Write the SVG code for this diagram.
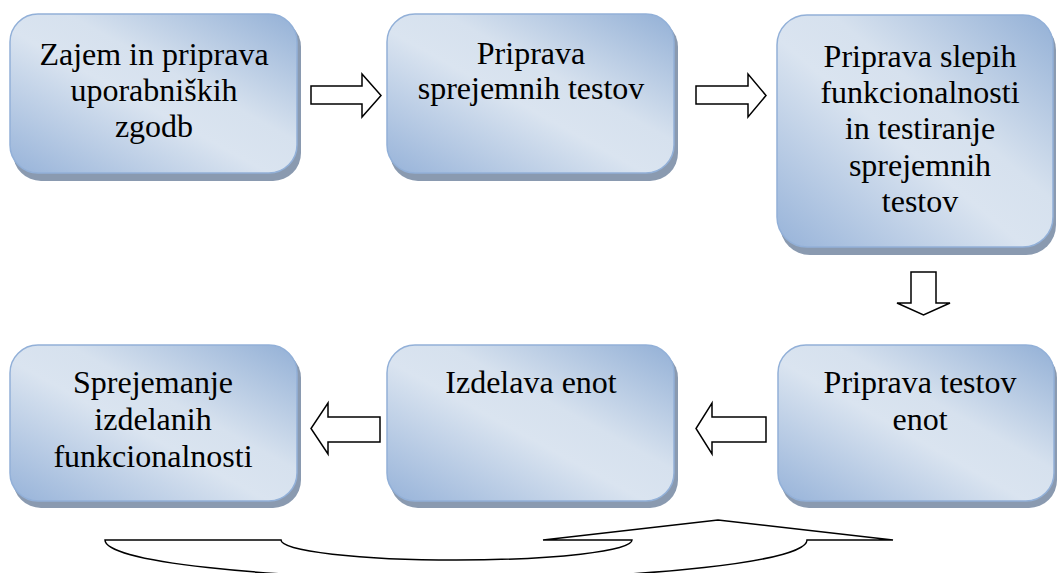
<svg xmlns="http://www.w3.org/2000/svg" width="1057" height="573" viewBox="0 0 1057 573">
<defs>
<linearGradient id="g" x1="0" y1="1" x2="1" y2="0">
<stop offset="0" stop-color="#97b3d9"/>
<stop offset="0.45" stop-color="#dae4f0"/>
<stop offset="0.6" stop-color="#d6e1ee"/>
<stop offset="1" stop-color="#93b0d6"/>
</linearGradient>
</defs>
<style>
.sh{fill:#8a9ab0}
.bx{fill:url(#g);stroke:#92b0d8;stroke-width:1.5}
text{font-family:'Liberation Serif','DejaVu Serif',serif;font-size:32px;fill:#000;text-anchor:middle}
.ar{fill:#fff;stroke:#000;stroke-width:1.5;stroke-linejoin:miter}
</style>
<g id="n1">
<rect class="sh" x="13" y="19" width="288" height="162" rx="28"/>
<rect class="bx" x="10" y="14" width="287" height="159" rx="28"/>
<text x="154" y="65">Zajem in priprava</text>
<text x="154" y="101">uporabniških</text>
<text x="154" y="137">zgodb</text>
</g>
<g id="n2">
<rect class="sh" x="390" y="19" width="288" height="162" rx="28"/>
<rect class="bx" x="387" y="14" width="287" height="159" rx="28"/>
<text x="531" y="64">Priprava</text>
<text x="531" y="99">sprejemnih testov</text>
</g>
<g id="n3">
<rect class="sh" x="780" y="20" width="276" height="235" rx="30"/>
<rect class="bx" x="777" y="15" width="276" height="232" rx="30"/>
<text x="920" y="67">Priprava slepih</text>
<text x="920" y="103">funkcionalnosti</text>
<text x="920" y="139">in testiranje</text>
<text x="920" y="176">sprejemnih</text>
<text x="920" y="212">testov</text>
</g>
<g id="n4">
<rect class="sh" x="13" y="350" width="288" height="158" rx="28"/>
<rect class="bx" x="10" y="345" width="287" height="156" rx="28"/>
<text x="153" y="393">Sprejemanje</text>
<text x="153" y="430">izdelanih</text>
<text x="153" y="467">funkcionalnosti</text>
</g>
<g id="n5">
<rect class="sh" x="390" y="350" width="288" height="158" rx="28"/>
<rect class="bx" x="387" y="345" width="287" height="156" rx="28"/>
<text x="531" y="393">Izdelava enot</text>
</g>
<g id="n6">
<rect class="sh" x="781" y="350" width="276" height="158" rx="28"/>
<rect class="bx" x="778" y="345" width="276" height="156" rx="28"/>
<text x="920" y="393">Priprava testov</text>
<text x="920" y="430">enot</text>
</g>
<g id="connectors">
<path class="ar" d="M311,86 L362,86 L362,74 L381,95.5 L362,117 L362,104 L311,104 Z"/>
<path class="ar" d="M696,86 L748,86 L748,74 L766,95.5 L748,117 L748,104 L696,104 Z"/>
<path class="ar" d="M911,272 L936,272 L936,303 L950,303 L923.5,315 L897,303 L911,303 Z"/>
<path class="ar" d="M380,417 L328,417 L328,403 L311,428.5 L328,454 L328,442 L380,442 Z"/>
<path class="ar" d="M766,417 L712,417 L712,403 L696,428.5 L712,454 L712,442 L766,442 Z"/>
<path class="ar" d="M105,540 L281,540 A175.5,20 0 0 0 632,540 L543,540 L718,520 L893,540 L807,540 A351,39 0 0 1 105,540 Z"/>
</g>
</svg>
